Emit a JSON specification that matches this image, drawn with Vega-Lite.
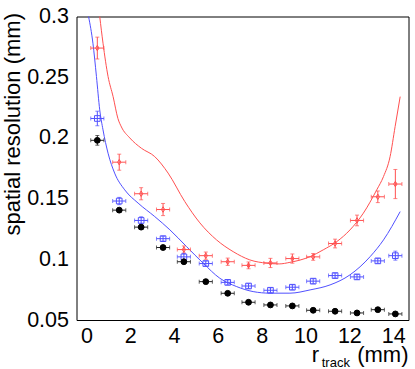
{
  "$schema": "https://vega.github.io/schema/vega-lite/v6.json",
  "autosize": {"type": "none"},
  "width": 332,
  "height": 303.5,
  "padding": {"left": 76.5, "top": 16.5, "right": 6.5, "bottom": 49},
  "config": {
    "font": "Liberation Sans",
    "view": {"stroke": "black", "strokeWidth": 1},
    "axis": {"grid": false, "domain": false, "labelFont": "Liberation Sans", "labelColor": "black", "tickColor": "black", "labelFlush": false, "labelOverlap": false, "labelBound": false},
    "legend": {"orient": "none", "legendX": 141, "legendY": 24, "labelFontSize": 20, "labelFont": "Liberation Sans", "labelColor": "black",
      "rowPadding": 11, "labelOffset": 12, "padding": 0, "symbolStrokeWidth": 1, "symbolOffset": 0, "labelLimit": 300}
  },
  "datasets": {
    "pts": [
      {"s": "818±82 Hz/cm²", "x": 0.5, "y": 0.274, "ey": 0.009, "ex": 0.3},
      {"s": "818±82 Hz/cm²", "x": 1.5, "y": 0.180, "ey": 0.0066, "ex": 0.3},
      {"s": "818±82 Hz/cm²", "x": 2.5, "y": 0.154, "ey": 0.005, "ex": 0.3},
      {"s": "818±82 Hz/cm²", "x": 3.5, "y": 0.141, "ey": 0.005, "ex": 0.3},
      {"s": "818±82 Hz/cm²", "x": 4.45, "y": 0.108, "ey": 0.003, "ex": 0.3},
      {"s": "818±82 Hz/cm²", "x": 5.45, "y": 0.103, "ey": 0.003, "ex": 0.3},
      {"s": "818±82 Hz/cm²", "x": 6.45, "y": 0.098, "ey": 0.003, "ex": 0.3},
      {"s": "818±82 Hz/cm²", "x": 7.4, "y": 0.095, "ey": 0.0028, "ex": 0.3},
      {"s": "818±82 Hz/cm²", "x": 8.4, "y": 0.097, "ey": 0.0038, "ex": 0.3},
      {"s": "818±82 Hz/cm²", "x": 9.4, "y": 0.1006, "ey": 0.0038, "ex": 0.3},
      {"s": "818±82 Hz/cm²", "x": 10.35, "y": 0.102, "ey": 0.0028, "ex": 0.3},
      {"s": "818±82 Hz/cm²", "x": 11.35, "y": 0.113, "ey": 0.0036, "ex": 0.3},
      {"s": "818±82 Hz/cm²", "x": 12.35, "y": 0.132, "ey": 0.0044, "ex": 0.3},
      {"s": "818±82 Hz/cm²", "x": 13.3, "y": 0.1515, "ey": 0.0048, "ex": 0.3},
      {"s": "818±82 Hz/cm²", "x": 14.1, "y": 0.162, "ey": 0.012, "ex": 0.3},
      {"s": "259±26 Hz/cm²", "x": 0.5, "y": 0.216, "ey": 0.006, "ex": 0.3},
      {"s": "259±26 Hz/cm²", "x": 1.5, "y": 0.148, "ey": 0.003, "ex": 0.3},
      {"s": "259±26 Hz/cm²", "x": 2.5, "y": 0.132, "ey": 0.003, "ex": 0.3},
      {"s": "259±26 Hz/cm²", "x": 3.5, "y": 0.117, "ey": 0.002, "ex": 0.3},
      {"s": "259±26 Hz/cm²", "x": 4.45, "y": 0.102, "ey": 0.003, "ex": 0.3},
      {"s": "259±26 Hz/cm²", "x": 5.45, "y": 0.0965, "ey": 0.002, "ex": 0.3},
      {"s": "259±26 Hz/cm²", "x": 6.45, "y": 0.081, "ey": 0.002, "ex": 0.3},
      {"s": "259±26 Hz/cm²", "x": 7.4, "y": 0.078, "ey": 0.002, "ex": 0.3},
      {"s": "259±26 Hz/cm²", "x": 8.4, "y": 0.0745, "ey": 0.002, "ex": 0.3},
      {"s": "259±26 Hz/cm²", "x": 9.4, "y": 0.077, "ey": 0.002, "ex": 0.3},
      {"s": "259±26 Hz/cm²", "x": 10.35, "y": 0.082, "ey": 0.002, "ex": 0.3},
      {"s": "259±26 Hz/cm²", "x": 11.35, "y": 0.0866, "ey": 0.002, "ex": 0.3},
      {"s": "259±26 Hz/cm²", "x": 12.35, "y": 0.0855, "ey": 0.002, "ex": 0.3},
      {"s": "259±26 Hz/cm²", "x": 13.3, "y": 0.0987, "ey": 0.002, "ex": 0.3},
      {"s": "259±26 Hz/cm²", "x": 14.1, "y": 0.103, "ey": 0.0037, "ex": 0.3},
      {"s": "no irradiation", "x": 0.5, "y": 0.198, "ey": 0.004, "ex": 0.3},
      {"s": "no irradiation", "x": 1.5, "y": 0.1405, "ey": 0.0015, "ex": 0.3},
      {"s": "no irradiation", "x": 2.5, "y": 0.1265, "ey": 0.0015, "ex": 0.3},
      {"s": "no irradiation", "x": 3.5, "y": 0.1097, "ey": 0.0015, "ex": 0.3},
      {"s": "no irradiation", "x": 4.45, "y": 0.098, "ey": 0.0015, "ex": 0.3},
      {"s": "no irradiation", "x": 5.45, "y": 0.0816, "ey": 0.0015, "ex": 0.3},
      {"s": "no irradiation", "x": 6.45, "y": 0.072, "ey": 0.0015, "ex": 0.3},
      {"s": "no irradiation", "x": 7.4, "y": 0.0646, "ey": 0.0015, "ex": 0.3},
      {"s": "no irradiation", "x": 8.4, "y": 0.0624, "ey": 0.0015, "ex": 0.3},
      {"s": "no irradiation", "x": 9.4, "y": 0.0616, "ey": 0.0015, "ex": 0.3},
      {"s": "no irradiation", "x": 10.35, "y": 0.058, "ey": 0.0015, "ex": 0.3},
      {"s": "no irradiation", "x": 11.35, "y": 0.0572, "ey": 0.0015, "ex": 0.3},
      {"s": "no irradiation", "x": 12.35, "y": 0.0558, "ey": 0.0015, "ex": 0.3},
      {"s": "no irradiation", "x": 13.3, "y": 0.0585, "ey": 0.0015, "ex": 0.3},
      {"s": "no irradiation", "x": 14.1, "y": 0.055, "ey": 0.0015, "ex": 0.3}
    ],
    "red": [
      {"x": 0.61, "y": 0.300}, {"x": 0.76, "y": 0.278}, {"x": 0.99, "y": 0.2506},
      {"x": 1.22, "y": 0.234}, {"x": 1.44, "y": 0.216}, {"x": 1.60, "y": 0.209},
      {"x": 1.98, "y": 0.200}, {"x": 2.51, "y": 0.1915}, {"x": 3.12, "y": 0.1846},
      {"x": 3.73, "y": 0.171}, {"x": 4.49, "y": 0.1476}, {"x": 5.18, "y": 0.130},
      {"x": 5.94, "y": 0.116}, {"x": 6.70, "y": 0.1063}, {"x": 7.46, "y": 0.0995},
      {"x": 8.23, "y": 0.0968}, {"x": 8.8, "y": 0.0962}, {"x": 9.29, "y": 0.0975},
      {"x": 10.21, "y": 0.1022}, {"x": 10.81, "y": 0.1078}, {"x": 11.43, "y": 0.1146},
      {"x": 12.03, "y": 0.1242}, {"x": 12.64, "y": 0.138}, {"x": 13.25, "y": 0.1572},
      {"x": 13.56, "y": 0.1682}, {"x": 13.86, "y": 0.1846}, {"x": 14.09, "y": 0.2094},
      {"x": 14.32, "y": 0.234}
    ],
    "blue": [
      {"x": 0.1, "y": 0.300}, {"x": 0.30, "y": 0.278}, {"x": 0.46, "y": 0.2506},
      {"x": 0.61, "y": 0.2231}, {"x": 0.76, "y": 0.2066}, {"x": 0.99, "y": 0.1874},
      {"x": 1.29, "y": 0.171}, {"x": 1.75, "y": 0.1572}, {"x": 2.36, "y": 0.1463},
      {"x": 3.12, "y": 0.1352}, {"x": 3.81, "y": 0.1243}, {"x": 4.57, "y": 0.1105},
      {"x": 5.33, "y": 0.0968}, {"x": 6.09, "y": 0.0844}, {"x": 6.86, "y": 0.0775},
      {"x": 7.61, "y": 0.0734}, {"x": 8.38, "y": 0.0721}, {"x": 9.29, "y": 0.0721},
      {"x": 10.21, "y": 0.0748}, {"x": 11.12, "y": 0.0789}, {"x": 12.03, "y": 0.0872},
      {"x": 12.95, "y": 0.1022}, {"x": 13.56, "y": 0.116}, {"x": 14.32, "y": 0.1393}
    ]
  },
  "resolve": {"axis": {"x": "independent", "y": "independent"}},
  "layer": [
    {
      "data": {"name": "red"},
      "mark": {"type": "line", "color": "#ff5050", "strokeWidth": 1, "interpolate": "monotone"},
      "encoding": {
        "x": {"field": "x", "type": "quantitative", "scale": {"domain": [-0.45, 14.7], "zero": false, "nice": false},
          "axis": {"orient": "bottom", "title": null, "values": [0,0.5,1,1.5,2,2.5,3,3.5,4,4.5,5,5.5,6,6.5,7,7.5,8,8.5,9,9.5,10,10.5,11,11.5,12,12.5,13,13.5,14,14.5],
            "ticks": true, "tickSize": 0, "labelFontSize": 21.5, "labelPadding": 5,
            "labelExpr": "datum.value % 2 === 0 ? format(datum.value, 'd') : ''",
            "encode": {"ticks": {"update": {"y2": {"condition": {"test": "datum.value % 2 === 0", "value": -9}, "value": -4.5}}}}}},
        "y": {"field": "y", "type": "quantitative", "scale": {"domain": [0.05, 0.3], "zero": false, "nice": false},
          "axis": {"orient": "left", "values": [0.05,0.06,0.07,0.08,0.09,0.1,0.11,0.12,0.13,0.14,0.15,0.16,0.17,0.18,0.19,0.2,0.21,0.22,0.23,0.24,0.25,0.26,0.27,0.28,0.29,0.3],
            "ticks": true, "tickSize": 0, "labelFontSize": 21.5, "labelPadding": 8,
            "labelExpr": "abs(datum.value*20 - round(datum.value*20)) < 0.001 ? format(datum.value, '~g') : ''",
            "encode": {"ticks": {"update": {"x2": {"condition": {"test": "abs(datum.value*20 - round(datum.value*20)) < 0.001", "value": 10}, "value": 5}}}},
            "title": "spatial resolution (mm)", "titleFontSize": 22, "titleFont": "Liberation Sans", "titleFontWeight": "normal",
            "titleAngle": -90, "titleAlign": "right", "titleBaseline": "alphabetic", "titleX": -57, "titleY": -4}}
      }
    },
    {
      "data": {"name": "blue"},
      "mark": {"type": "line", "color": "#5050ff", "strokeWidth": 1, "interpolate": "monotone"},
      "encoding": {
        "x": {"field": "x", "type": "quantitative",
          "axis": {"orient": "top", "title": null, "values": [0,0.5,1,1.5,2,2.5,3,3.5,4,4.5,5,5.5,6,6.5,7,7.5,8,8.5,9,9.5,10,10.5,11,11.5,12,12.5,13,13.5,14,14.5],
            "ticks": true, "tickSize": 0, "labels": false,
            "encode": {"ticks": {"update": {"y2": {"condition": {"test": "datum.value % 2 === 0", "value": 9}, "value": 4.5}}}}}},
        "y": {"field": "y", "type": "quantitative",
          "axis": {"orient": "right", "title": null, "values": [0.05,0.06,0.07,0.08,0.09,0.1,0.11,0.12,0.13,0.14,0.15,0.16,0.17,0.18,0.19,0.2,0.21,0.22,0.23,0.24,0.25,0.26,0.27,0.28,0.29,0.3],
            "ticks": true, "tickSize": 0, "labels": false,
            "encode": {"ticks": {"update": {"x2": {"condition": {"test": "abs(datum.value*20 - round(datum.value*20)) < 0.001", "value": -10}, "value": -5}}}}}}
      }
    },
    {
      "data": {"name": "pts"},
      "mark": {"type": "errorbar", "ticks": {"size": 4}, "thickness": 1},
      "encoding": {
        "x": {"field": "x", "type": "quantitative", "axis": null},
        "y": {"field": "y", "type": "quantitative", "axis": null},
        "yError": {"field": "ey"},
        "color": {"field": "s", "type": "nominal", "legend": null,
          "scale": {"domain": ["818±82 Hz/cm²", "259±26 Hz/cm²", "no irradiation"], "range": ["#ff5050", "#5050ff", "#222222"]}}
      }
    },
    {
      "data": {"name": "pts"},
      "mark": {"type": "errorbar", "ticks": {"size": 4}, "thickness": 1},
      "encoding": {
        "x": {"field": "x", "type": "quantitative", "axis": null},
        "xError": {"field": "ex"},
        "y": {"field": "y", "type": "quantitative", "axis": null},
        "color": {"field": "s", "type": "nominal", "legend": null}
      }
    },
    {
      "data": {"name": "pts"},
      "mark": {"type": "point", "strokeWidth": 1, "opacity": 1},
      "encoding": {
        "x": {"field": "x", "type": "quantitative", "axis": null},
        "y": {"field": "y", "type": "quantitative", "axis": null},
        "shape": {"field": "s", "type": "nominal", "legend": {"title": null},
          "scale": {"domain": ["818±82 Hz/cm²", "259±26 Hz/cm²", "no irradiation"], "range": ["M0,-1L0.6,0L0,1L-0.6,0Z", "square", "circle"]}},
        "stroke": {"field": "s", "type": "nominal", "legend": {"title": null},
          "scale": {"domain": ["818±82 Hz/cm²", "259±26 Hz/cm²", "no irradiation"], "range": ["#ff5050", "#5050ff", "black"]}},
        "fill": {"field": "s", "type": "nominal", "legend": {"title": null},
          "scale": {"domain": ["818±82 Hz/cm²", "259±26 Hz/cm²", "no irradiation"], "range": ["rgba(255,255,255,0)", "rgba(255,255,255,0)", "black"]}},
        "size": {"field": "s", "type": "nominal", "legend": {"title": null},
          "scale": {"domain": ["818±82 Hz/cm²", "259±26 Hz/cm²", "no irradiation"], "range": [30, 34, 20]}}
      }
    },
    {
      "data": {"values": [{"label": "r"}]},
      "mark": {"type": "text", "align": "left", "baseline": "alphabetic", "fontSize": 22, "font": "Liberation Sans", "color": "black"},
      "encoding": {
        "x": {"datum": 10.28, "type": "quantitative", "axis": null},
        "y": {"datum": 0.015, "type": "quantitative", "axis": null},
        "text": {"field": "label"}
      }
    },
    {
      "data": {"values": [{"label": "track"}]},
      "mark": {"type": "text", "align": "left", "baseline": "alphabetic", "fontSize": 13, "font": "Liberation Sans", "color": "black"},
      "encoding": {
        "x": {"datum": 10.74, "type": "quantitative", "axis": null},
        "y": {"datum": 0.0112, "type": "quantitative", "axis": null},
        "text": {"field": "label"}
      }
    },
    {
      "data": {"values": [{"label": "(mm)"}]},
      "mark": {"type": "text", "align": "right", "baseline": "alphabetic", "fontSize": 22, "font": "Liberation Sans", "color": "black"},
      "encoding": {
        "x": {"datum": 14.7, "type": "quantitative", "axis": null},
        "y": {"datum": 0.015, "type": "quantitative", "axis": null},
        "text": {"field": "label"}
      }
    }
  ]
}
